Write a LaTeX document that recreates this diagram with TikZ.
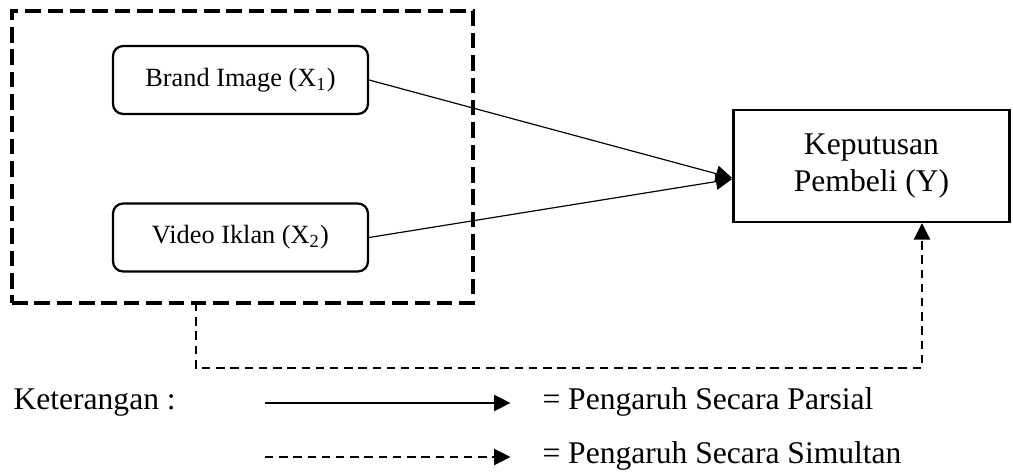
\documentclass[tikz,border=0pt]{standalone}
\usepackage{fontspec}
\setmainfont{Liberation Serif}
\usetikzlibrary{arrows.meta,positioning,calc}

\begin{document}
\begin{tikzpicture}[x=0.38pt,y=-0.38pt,
    var/.style={draw, line width=0.85pt, rounded corners=3.8pt, minimum width=96.9pt, minimum height=25.8pt, inner sep=0pt, font=\fontsize{10}{12}\selectfont},
    dep/.style={draw, line width=0.9pt, minimum width=105pt, minimum height=42.6pt, align=center, inner sep=0pt, font=\fontsize{12}{14}\selectfont},
    group/.style={draw, line width=1.2pt, dash pattern=on 5.9pt off 2.6pt, minimum width=175.2pt, minimum height=111pt, inner sep=0pt},
    parsial/.style={line width=0.45pt, -{Triangle[length=6.2pt,width=6.2pt]}},
    simul/.style={parsial, dash pattern=on 3.2pt off 2.2pt},
    ket/.style={inner sep=0pt, font=\fontsize{12}{14}\selectfont}]
    \useasboundingbox (0,0) rectangle (1013,472);

    % variabel bebas dan terikat
    \node[group]                 (grp)   at (242.5,157)  {};
    \node[var]                   (brand) at (240.5,80)   {Brand Image (X\textsubscript{1})};
    \node[var]                   (video) at (240.5,237.5) {Video Iklan (X\textsubscript{2})};
    \node[dep]                   (kep)   at (871.5,166)  {Keputusan\\Pembeli (Y)};

    % pengaruh parsial
    \draw[parsial] (brand.east) -- ($(kep.west)+(0,12)$);
    \draw[parsial] (video.east) -- ($(kep.west)+(0,13)$);

    % pengaruh simultan
    \coordinate (s0) at (196,303);
    \coordinate (s1) at (922,368);
    \draw[simul] (s0) |- (s1) -- (s1 |- kep.south);

    % keterangan
    \node[ket, anchor=base west] (ketr) at (13,410)  {Keterangan :};
    \node[ket, anchor=base west] (tpar) at (542,410) {= Pengaruh Secara Parsial};
    \node[ket, anchor=base west] (tsim) at (542,464) {= Pengaruh Secara Simultan};
    \coordinate (lp) at (265,403);
    \coordinate (ls) at (265,457);
    \draw[parsial, shorten >=12pt] (lp) -- (lp -| tpar.west);
    \draw[simul, shorten >=12pt]   (ls) -- (ls -| tsim.west);
\end{tikzpicture}
\end{document}
